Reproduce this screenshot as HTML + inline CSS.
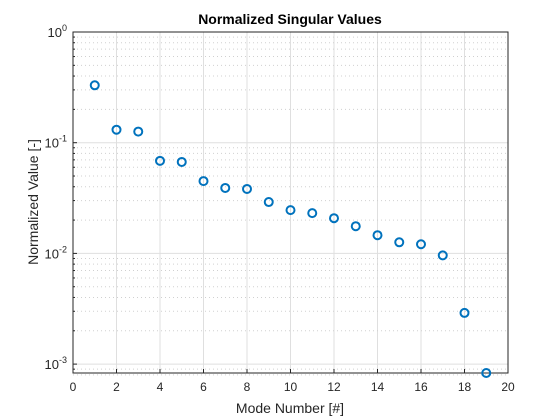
<!DOCTYPE html>
<html><head><meta charset="utf-8"><style>body{margin:0;background:#fff}svg{display:block}text{font-family:"Liberation Sans",sans-serif;fill:#262626}</style></head>
<body>
<svg id="chart" width="560" height="420" xmlns="http://www.w3.org/2000/svg">
<rect width="560" height="420" fill="#fff"/>
<g id="grid"></g>
<g id="ticks"></g>
<rect x="73" y="32" width="435" height="341" fill="none" stroke="#262626" stroke-width="1"/>
<g id="marks"></g>
<text x="290" y="24" text-anchor="middle" font-size="14" font-weight="bold" style="fill:#000">Normalized Singular Values</text>
<text x="290" y="413" text-anchor="middle" font-size="14">Mode Number [#]</text>
<text transform="translate(38,202) rotate(-90)" text-anchor="middle" font-size="14">Normalized Value [-]</text>
</svg>
<script>
const modes=[1,2,3,4,5,6,7,8,9,10,11,12,13,14,15,16,17,18,19];
const values=[0.33,0.131,0.126,0.0686,0.067,0.045,0.039,0.0382,0.0291,0.0246,0.0231,0.0208,0.0176,0.0146,0.0126,0.0121,0.0096,0.0029,0.00078];
const xTicks=[0,2,4,6,8,10,12,14,16,18,20];
const yDecades=[0,-1,-2,-3];
const NS="http://www.w3.org/2000/svg";
const L=73,R=508,T=32,B=373;
const xs=v=>L+(v-0)/20*(R-L);
const ys=v=>T-Math.log10(v)*110.7;
function mk(tag,a,p){const e=document.createElementNS(NS,tag);for(const k in a)e.setAttribute(k,a[k]);p.appendChild(e);return e;}
const grid=document.getElementById('grid'),ticks=document.getElementById('ticks'),marks=document.getElementById('marks');
xTicks.forEach(t=>{const x=xs(t);
 const g=mk('line',{x1:x,x2:x,y1:T,y2:B,stroke:'#dfdfdf','stroke-width':1},grid);
 
 mk('line',{x1:x,x2:x,y1:B,y2:B-4,stroke:'#262626'},ticks);
 const tx=mk('text',{x:x,y:B+18,'text-anchor':'middle','font-size':12},ticks);tx.textContent=t;
 
});
yDecades.forEach(d=>{
 const y=ys(Math.pow(10,d));
 const g=mk('line',{x1:L,x2:R,y1:y,y2:y,stroke:'#dfdfdf'},grid);
 
 mk('line',{x1:L,x2:L+4,y1:y,y2:y,stroke:'#262626'},ticks);
 const tx=mk('text',{x:L-6,y:y+5,'text-anchor':'end','font-size':13},ticks);
 
 tx.innerHTML='10<tspan dy="-6" font-size="9">'+d+'</tspan>';
 for(let m=2;m<=9;m++){const v=m*Math.pow(10,d-1);const yy=ys(v);if(yy>B||yy<T)continue;
  const mg=mk('line',{x1:L,x2:R,y1:yy,y2:yy,stroke:'#d0d0d0','stroke-dasharray':'1,3'},grid);
  
  mk('line',{x1:L,x2:L+2,y1:yy,y2:yy,stroke:'#262626'},ticks);}
});
{const yy=ys(8e-4);const mg=mk('line',{x1:L,x2:R,y1:yy,y2:yy,stroke:'#d0d0d0','stroke-dasharray':'1,3'},grid);
 }
modes.forEach((m,i)=>{
 const c=mk('circle',{cx:xs(m),cy:Math.min(ys(values[i]),B),r:4,fill:'none',stroke:'#0072bd','stroke-width':2},marks);
 
 
});
</script>
</body></html>
